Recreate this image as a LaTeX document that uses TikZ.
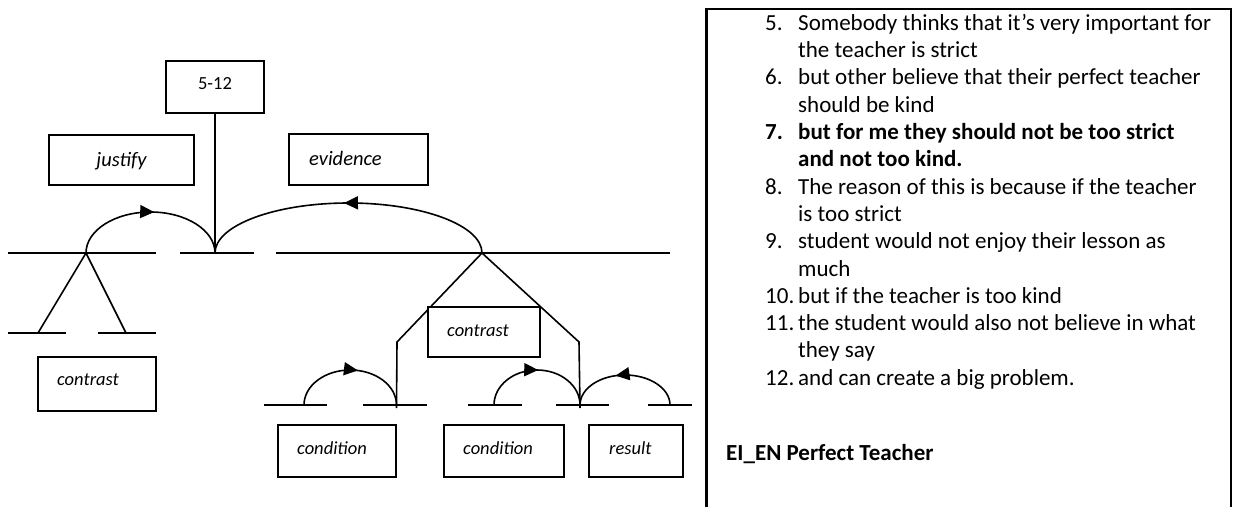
\documentclass[tikz,border=0pt]{standalone}
\usepackage{fontspec}
\setmainfont{Carlito}
\usetikzlibrary{arrows.meta,decorations.markings}
\begin{document}
\begin{tikzpicture}[x=1pt,y=1pt,
  box/.style={draw, line width=2pt, fill=white, inner sep=0pt},
  ln/.style={line width=1.6pt},
  lab/.style={font=\fontsize{18.5}{22}\selectfont\itshape, inner sep=0pt, anchor=base west},
  biglab/.style={lab, font=\fontsize{20.5}{24}\selectfont\itshape},
  arrowat/.style={postaction={decorate}, decoration={markings, mark=at position #1 with {\arrow{Triangle[length=14pt,width=13pt]}}}},
  rt/.style={font=\fontsize{23}{27.3}\selectfont, inner sep=0pt}
]
\useasboundingbox (0,0) rectangle (1238,-506);

% ---------- key points ----------
\coordinate (jA) at (86,-253);
\coordinate (mid) at (215,-253);
\coordinate (eA) at (482,-253);
\coordinate (llL) at (38,-333);
\coordinate (llR) at (126,-333);
\coordinate (kL) at (397,-342);
\coordinate (kR) at (579,-342);
\coordinate (cL) at (396.5,-405);
\coordinate (cR) at (580,-405);
\coordinate (a1) at (304,-405);
\coordinate (a2) at (494,-405);
\coordinate (a3) at (670,-405);

% ---------- horizontal segments ----------
\draw[ln] (8,-253) -- (156,-253);
\draw[ln] (180,-253) -- (254,-253);
\draw[ln] (276,-253) -- (670,-253);
\draw[ln] (8,-333) -- (66,-333);
\draw[ln] (98,-333) -- (156,-333);
\draw[ln] (264,-405) -- (327,-405);
\draw[ln] (363,-405) -- (427,-405);
\draw[ln] (468,-405) -- (522,-405);
\draw[ln] (556,-405) -- (609,-405);
\draw[ln] (648,-405) -- (692,-405);

% ---------- legs ----------
\draw[ln] (jA) -- (llL);
\draw[ln] (jA) -- (llR);
\draw[ln] (eA) -- (kL) -- ([yshift=-3pt]cL);
\draw[ln] (eA) -- (kR) -- ([yshift=-3pt]cR);

% ---------- arcs ----------
\draw[ln, arrowat=0.522] (jA) arc[start angle=180, end angle=0, x radius=64.5, y radius=41];
\draw[ln, arrowat=0.515] (eA) arc[start angle=0, end angle=180, x radius=133.5, y radius=50];
\draw[ln, arrowat=0.56] (a1) arc[start angle=180, end angle=0, x radius=46.25, y radius=35];
\draw[ln, arrowat=0.51] (a2) arc[start angle=180, end angle=0, x radius=43, y radius=35];
\draw[ln, arrowat=0.58] (a3) arc[start angle=0, end angle=180, x radius=45, y radius=30];

% ---------- boxes ----------
\node[box, minimum width=98, minimum height=52] (b512) at (215,-87) {};
\node[box, minimum width=145, minimum height=50] (bJ) at (121.5,-160) {};
\node[box, minimum width=139, minimum height=51] (bE) at (358.5,-159.5) {};
\node[box, minimum width=118, minimum height=54] (bCL) at (97,-384) {};
\node[box, minimum width=112, minimum height=50] (bCM) at (484,-332) {};
\node[box, minimum width=118, minimum height=52] (bC1) at (337,-451) {};
\node[box, minimum width=120, minimum height=52] (bC2) at (504,-451) {};
\node[box, minimum width=94, minimum height=52] (bR) at (636,-451) {};

\draw[ln] (b512.south) -- (mid);

% ---------- labels ----------
\node[lab, font=\fontsize{18.5}{22}\selectfont, anchor=base] (t512) at (215,-89) {5-12};
\node[biglab, anchor=base] (tJ) at (121.5,-166) {justify};
\node[biglab] (tE) at ([shift={(21,-32)}]bE.north west) {evidence};
\node[lab] (tCL) at ([shift={(20,-29)}]bCL.north west) {contrast};
\node[lab] (tCM) at ([shift={(20,-30)}]bCM.north west) {contrast};
\node[lab] (tC1) at ([shift={(20,-30)}]bC1.north west) {condition};
\node[lab] (tC2) at ([shift={(20,-30)}]bC2.north west) {condition};
\node[lab] (tR) at ([shift={(21,-30)}]bR.north west) {result};

% ---------- right text frame ----------
\draw[line width=1.8pt] (706,-9) -- (1231,-9) -- (1231,-507);
\draw[line width=3pt] (706,-507) -- (706,-8.1);

\node[rt, anchor=north west] (list) at (765,-11) {%
\begin{tabular}{@{}p{33pt}@{}l@{}}
5. & Somebody thinks that it’s very important for\\
   & the teacher is strict\\
6. & but other believe that their perfect teacher\\
   & should be kind\\
\textbf{7.} & \textbf{but for me they should not be too strict}\\
   & \textbf{and not too kind.}\\
8. & The reason of this is because if the teacher\\
   & is too strict\\
9. & student would not enjoy their lesson as\\
   & much\\
10. & but if the teacher is too kind\\
11. & the student would also not believe in what\\
   & they say\\
12. & and can create a big problem.
\end{tabular}};

\node[rt, anchor=base west, font=\fontsize{23}{27.3}\selectfont\bfseries] (title) at (726,-460) {EI\_EN Perfect Teacher};
\end{tikzpicture}
\end{document}
